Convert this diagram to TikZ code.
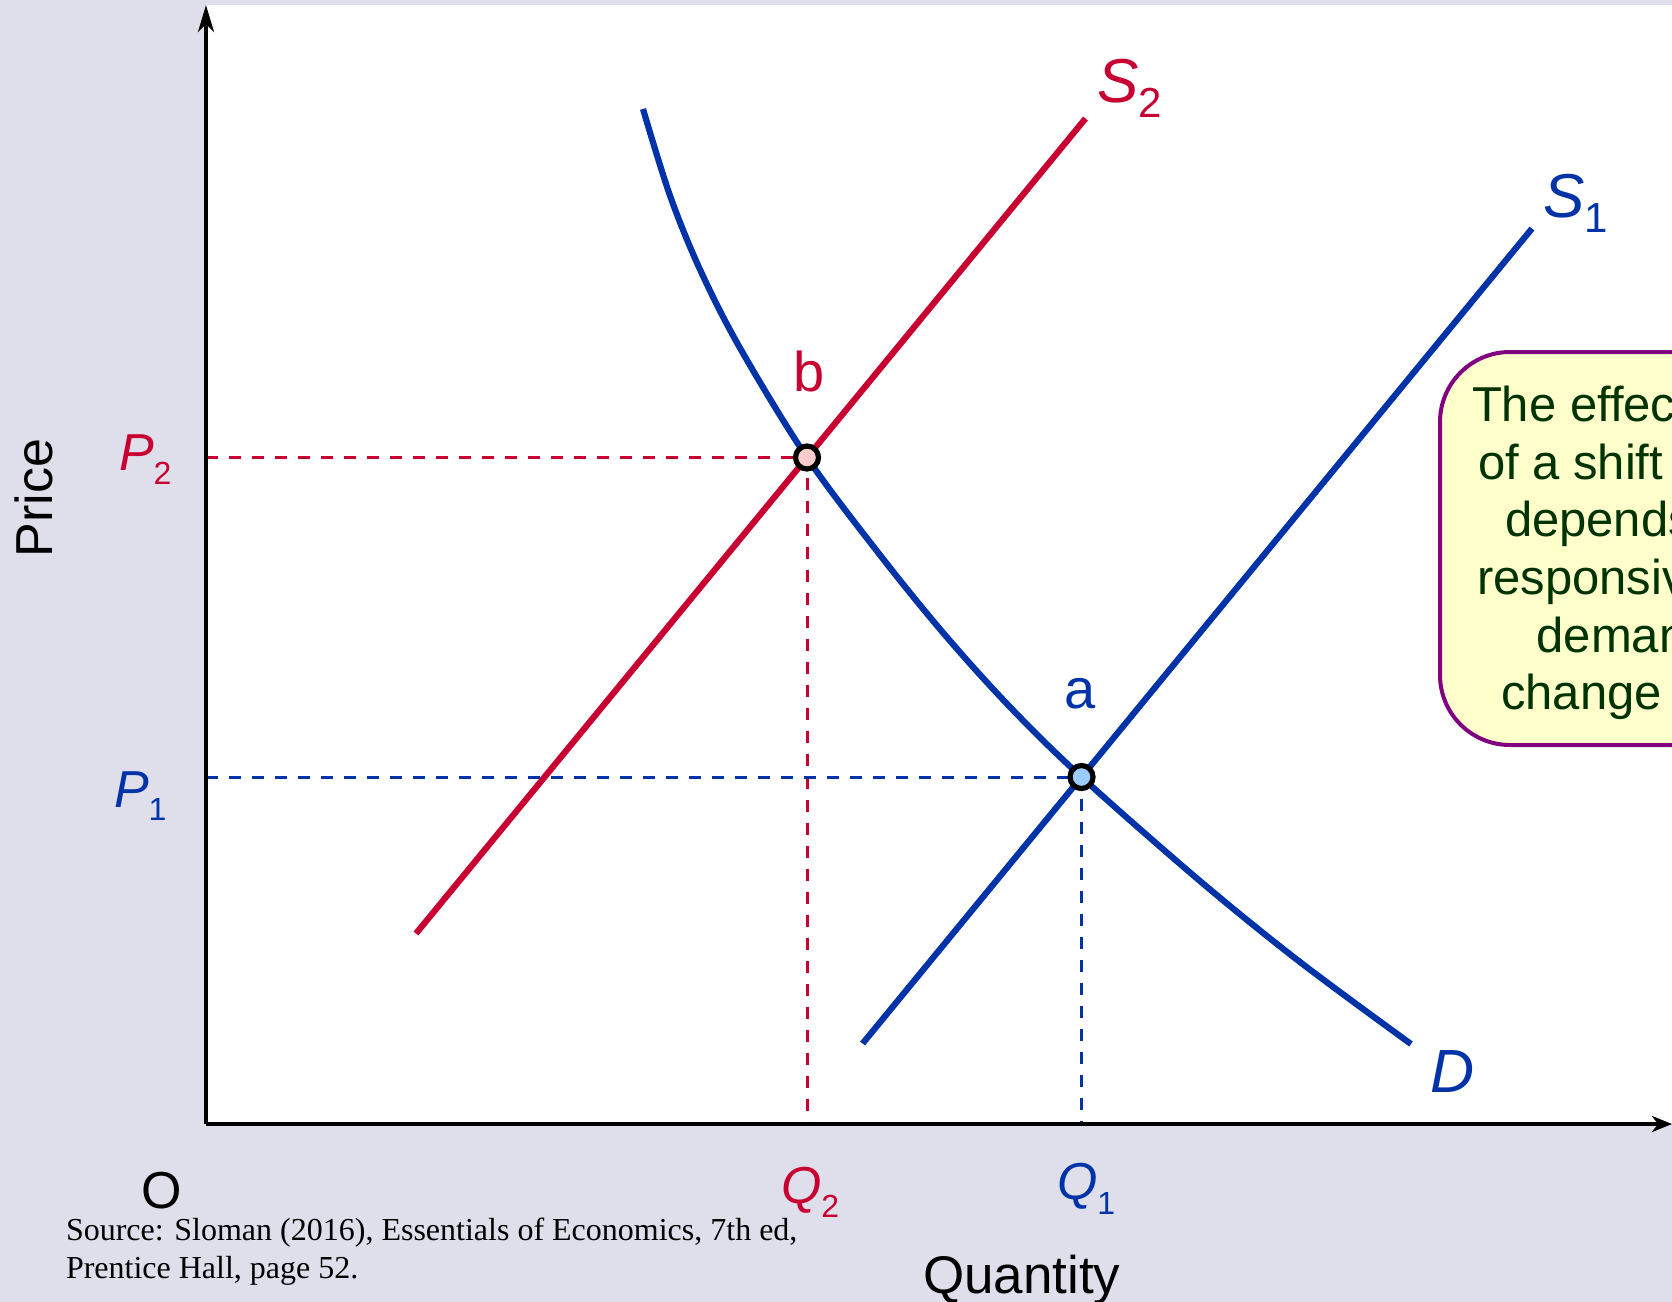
\documentclass[tikz,border=0pt]{standalone}
\usepackage{fontspec}
\setmainfont{Liberation Sans}
\newfontfamily\srcfont{Liberation Serif}
\usetikzlibrary{arrows.meta}
\definecolor{bg}{HTML}{DFDFEC}
\definecolor{sred}{HTML}{C80032}
\definecolor{sblue}{HTML}{0033A8}
\definecolor{boxfill}{HTML}{FFFFCC}
\definecolor{boxline}{HTML}{800080}
\definecolor{boxtext}{HTML}{003300}
\definecolor{ptred}{HTML}{FFCCCC}
\definecolor{ptblue}{HTML}{99CCFF}
\begin{document}
\begin{tikzpicture}[x=0.5pt,y=-0.5pt,
  curve/.style={line width=3.1pt},
  guide/.style={line width=1.5pt, dash pattern=on 6pt off 5.5pt},
  axis/.style={line width=2.1pt, draw=black},
  eqpt/.style={circle, draw=black, line width=2.6pt, minimum size=11.5pt, inner sep=0pt},
  lab/.style={inner sep=0pt, outer sep=0pt},
  biglab/.style={lab, font=\fontsize{26}{26}\selectfont},
  boxtxt/.style={lab, anchor=base west, text=boxtext, font=\fontsize{24.5}{29}\selectfont},
]
\clip (0,0) rectangle (1672,1302);
\fill[bg] (0,0) rectangle (1672,1302);
\fill[white] (206,5) rectangle (1672,1124);

% key coordinates
\coordinate (O) at (206,1124);
\coordinate (ytop) at (206,5);
\coordinate (xend) at (1672,1124);
\coordinate (eb) at (807,457.5);
\coordinate (ea) at (1081.5,777);
\coordinate (yb) at (206,457.5);
\coordinate (ya) at (206,777);
\coordinate (xb) at (807,1124);
\coordinate (xa) at (1081.5,1124);
\coordinate (s2lo) at (416,933.5);
\coordinate (s2hi) at (1085.5,118.5);
\coordinate (s1lo) at (862.6,1043.5);
\coordinate (s1hi) at (1532,228.5);

% explanation box
\draw[boxline, fill=boxfill, line width=2pt, rounded corners=35pt] (1440,352) rectangle (1900,745);
\node[boxtxt] (t1) at (1472,421.7) {The effect};
\node[boxtxt] (t2) at (1478,479.3) {of a shift};
\node[boxtxt] (t3) at (1505,536.9) {depends};
\node[boxtxt] (t4) at (1477,594.5) {responsive};
\node[boxtxt] (t5) at (1536.5,652.1) {demand};
\node[boxtxt] (t6) at (1501,709.7) {change};

% guide lines
\draw[guide, sred] (yb) -- (eb) -- (xb);
\draw[guide, sblue] (ya) -- (ea) -- (xa);

% demand curve
\draw[curve, sblue] plot[smooth, tension=0.55] coordinates {
  (643,109) (670,195.6) (700,269.5) (740,348) (807,457.5) (880,555)
  (945,635) (1010,707) (1081.5,777) (1200,881) (1300,962) (1411,1044)};

% supply curves
\draw[curve, sred] (s2lo) -- (s2hi);
\draw[curve, sblue] (s1lo) -- (s1hi);

% axes
\draw[axis, -{Stealth[length=13.5pt,width=8pt,inset=4pt]}] (O) -- (ytop);
\draw[axis, -{Stealth[length=10pt,width=8pt,inset=3pt]}] (O) -- (xend);

% equilibrium points
\node[eqpt, fill=ptred] (b) at (eb) {};
\node[eqpt, fill=ptblue] (a) at (ea) {};

% labels
\node[lab, anchor=base west, text=sred, font=\fontsize{31}{31}\selectfont] (s2lab) at (1097,102)
  {\textit{S}\raisebox{-7.5pt}{\fontsize{21}{21}\selectfont 2}};
\node[lab, anchor=base west, text=sblue, font=\fontsize{31}{31}\selectfont] (s1lab) at (1543,217)
  {\textit{S}\raisebox{-7.5pt}{\fontsize{21}{21}\selectfont 1}};
\node[lab, anchor=base west, text=sblue, font=\fontsize{30.5}{30.5}\selectfont\itshape] (dlab) at (1430,1092) {D};
\node[lab, anchor=base, text=sred, font=\fontsize{28}{28}\selectfont] (blab) at (809,391) {b};
\node[lab, anchor=base, text=sblue, font=\fontsize{28}{28}\selectfont] (alab) at (1080,708) {a};

\node[biglab, anchor=base west, text=sred] (p2lab) at (119,470)
  {\textit{P}\raisebox{-7pt}{\fontsize{16}{16}\selectfont 2}};
\node[biglab, anchor=base west, text=sblue] (p1lab) at (114,807)
  {\textit{P}\raisebox{-6.5pt}{\fontsize{16}{16}\selectfont 1}};
\node[biglab, anchor=base west, text=sred] (q2lab) at (781,1203)
  {\textit{Q}\raisebox{-7pt}{\fontsize{16}{16}\selectfont 2}};
\node[biglab, anchor=base west, text=sblue] (q1lab) at (1057,1199)
  {\textit{Q}\raisebox{-7.5pt}{\fontsize{16}{16}\selectfont 1}};
\node[biglab, anchor=base] (olab) at (162,1208) {O};
\node[lab, anchor=base west, font=\fontsize{26.5}{26.5}\selectfont] (qty) at (923,1293) {Quantity};
\node[biglab, anchor=base, rotate=90] (price) at (52,498) {Price};

% source
\node[lab, anchor=base west, font=\srcfont\fontsize{16}{19}\selectfont] (src1) at (66,1240)
  {Source: Sloman (2016), Essentials of Economics, 7th ed,};
\node[lab, anchor=base west, font=\srcfont\fontsize{16}{19}\selectfont] (src2) at (66,1278)
  {Prentice Hall, page 52.};
\end{tikzpicture}
\end{document}
